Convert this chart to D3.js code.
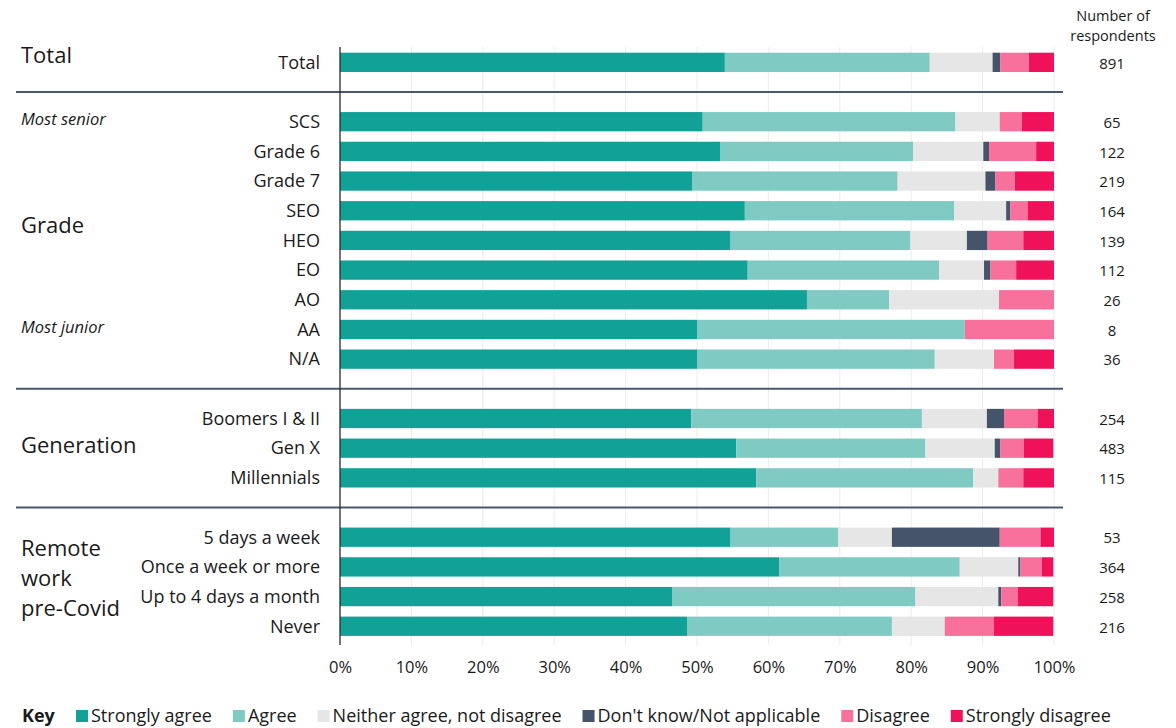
<!DOCTYPE html>
<html>
<head>
<meta charset="utf-8">
<script src="https://cdn.jsdelivr.net/npm/d3@7"></script>
<style>
  html, body { margin: 0; padding: 0; background: #fff; }
  svg { display: block; font-family: "Open Sans", "Noto Sans", sans-serif; }
</style>
</head>
<body>
<svg id="chart" width="1176" height="728"></svg>
<script>
// Survey responses by group (percent of respondents in each row)
const categories = ["Total", "SCS", "Grade 6", "Grade 7", "SEO", "HEO", "EO", "AO", "AA", "N/A",
  "Boomers I & II", "Gen X", "Millennials",
  "5 days a week", "Once a week or more", "Up to 4 days a month", "Never"];

const stronglyAgree    = [53.9, 50.8, 53.3, 49.3, 56.7, 54.7, 57.1, 65.4, 50.0, 50.0, 49.2, 55.5, 58.3, 54.7, 61.5, 46.5, 48.6];
const agree            = [28.7, 35.4, 27.0, 28.8, 29.3, 25.2, 26.8, 11.5, 37.5, 33.3, 32.3, 26.5, 30.4, 15.1, 25.3, 34.1, 28.7];
const neither          = [8.8, 6.2, 9.8, 12.3, 7.3, 7.9, 6.3, 15.4, 0, 8.3, 9.1, 9.7, 3.5, 7.5, 8.2, 11.6, 7.4];
const dontKnow         = [1.1, 0, 0.8, 1.4, 0.6, 2.9, 0.9, 0, 0, 0, 2.4, 0.8, 0, 15.1, 0.3, 0.4, 0];
const disagree         = [4.0, 3.1, 6.6, 2.7, 2.4, 5.0, 3.6, 7.7, 12.5, 2.8, 4.7, 3.3, 3.5, 5.7, 3.0, 2.3, 6.9];
const stronglyDisagree = [3.5, 4.6, 2.5, 5.5, 3.7, 4.3, 5.4, 0, 0, 5.6, 2.4, 4.1, 4.3, 1.9, 1.6, 5.0, 8.3];

const respondents = [891, 65, 122, 219, 164, 139, 112, 26, 8, 36, 254, 483, 115, 53, 364, 258, 216];

const seriesNames = ["Strongly agree", "Agree", "Neither agree, not disagree",
  "Don't know/Not applicable", "Disagree", "Strongly disagree"];
const seriesColors = ["#12a197", "#7fcbc3", "#e6e6e6", "#45546a", "#f7719c", "#f0115b"];

const groupTitles = [["Total"], ["Grade"], ["Generation"], ["Remote", "work", "pre-Covid"]];
const groupSizes = [1, 9, 3, 4];
const rowNotes = [{ row: 1, text: "Most senior" }, { row: 8, text: "Most junior" }];

const tickValues = [0, 10, 20, 30, 40, 50, 60, 70, 80, 90, 100];
const tickLabels = ["0%", "10%", "20%", "30%", "40%", "50%", "60%", "70%", "80%", "90%", "100%"];

const headerLines = ["Number of", "respondents"];

// ---- layout ----
const svg = d3.select("#chart");
const textColor = "#1a1a1a";
const ruleColor = "#4a586d";

// each group gets its rows plus one empty slot separating it from the next
const rowGroup = [];
groupSizes.forEach((n, g) => { for (let i = 0; i < n; i++) rowGroup.push(g); });
const rowSlot = rowGroup.map((g, i) => i + g);
const separatorSlots = groupSizes.slice(0, -1).map((n, g) => {
  const last = groupSizes.slice(0, g + 1).reduce((a, b) => a + b, 0) - 1;
  return rowSlot[last] + 1;
});

const nSlots = 20;
const y = d3.scaleBand()
  .domain(d3.range(nSlots))
  .range([47.5, 47.5 + nSlots * 29.68])
  .paddingInner(0.35)
  .paddingOuter(0.175);
const slotCenter = s => y(s) + y.bandwidth() / 2;

const x = d3.scaleLinear().domain([0, 100]).range([340, 1054]);

const plotTop = 47, plotBottom = 645;

// gridlines
svg.append("g")
  .selectAll("line")
  .data(tickValues.slice(1))
  .join("line")
  .attr("x1", d => x(d)).attr("x2", d => x(d))
  .attr("y1", plotTop).attr("y2", plotBottom)
  .attr("stroke", "#ececec").attr("stroke-width", 1);

// stacked bars
const seriesArrays = [stronglyAgree, agree, neither, dontKnow, disagree, stronglyDisagree];
const table = categories.map((c, i) => {
  const o = { category: c, slot: rowSlot[i] };
  seriesNames.forEach((s, k) => { o[s] = seriesArrays[k][i]; });
  return o;
});
const stacked = d3.stack().keys(seriesNames)(table);

svg.append("g")
  .selectAll("g")
  .data(stacked)
  .join("g")
  .attr("fill", (d, k) => seriesColors[k])
  .selectAll("rect")
  .data(d => d)
  .join("rect")
  .attr("x", d => x(d[0]))
  .attr("width", d => Math.max(0, x(Math.min(100, d[1])) - x(d[0])))
  .attr("y", d => y(d.data.slot))
  .attr("height", y.bandwidth());

// group separators
svg.append("g")
  .selectAll("line")
  .data(separatorSlots)
  .join("line")
  .attr("x1", 16).attr("x2", 1063)
  .attr("y1", d => slotCenter(d)).attr("y2", d => slotCenter(d))
  .attr("stroke", ruleColor).attr("stroke-width", 2);

// category axis line
svg.append("line")
  .attr("x1", x(0)).attr("x2", x(0))
  .attr("y1", plotTop).attr("y2", plotBottom)
  .attr("stroke", "#2b2b2b").attr("stroke-width", 1.3);

// category labels
svg.append("g")
  .selectAll("text")
  .data(table)
  .join("text")
  .attr("x", 320)
  .attr("y", d => slotCenter(d.slot))
  .attr("dy", "0.35em")
  .attr("text-anchor", "end")
  .attr("font-size", 18)
  .attr("fill", textColor)
  .text(d => d.category);

// group titles
const titleOffsets = [-0.25, 5.5, 12.9, 17.4];
groupTitles.forEach((lines, g) => {
  const cy = slotCenter(0) + titleOffsets[g] * y.step();
  const lh = 30;
  const t = svg.append("text")
    .attr("x", 21)
    .attr("font-size", 22)
    .attr("fill", textColor);
  lines.forEach((ln, j) => {
    t.append("tspan")
      .attr("x", 21)
      .attr("y", cy + (j - (lines.length - 1) / 2) * lh)
      .attr("dy", "0.35em")
      .text(ln);
  });
});

// row notes
svg.append("g")
  .selectAll("text")
  .data(rowNotes)
  .join("text")
  .attr("x", 21)
  .attr("y", d => slotCenter(rowSlot[d.row]) - 2)
  .attr("dy", "0.35em")
  .attr("font-size", 16.5)
  .attr("font-style", "italic")
  .attr("fill", textColor)
  .text(d => d.text);

// respondent counts
svg.append("g")
  .selectAll("text")
  .data(table)
  .join("text")
  .attr("x", 1112)
  .attr("y", d => slotCenter(d.slot) + 1)
  .attr("dy", "0.35em")
  .attr("text-anchor", "middle")
  .attr("font-size", 15)
  .attr("fill", textColor)
  .text((d, i) => respondents[i]);

svg.append("g")
  .selectAll("text")
  .data(headerLines)
  .join("text")
  .attr("x", 1113)
  .attr("y", (d, i) => 16 + i * 20)
  .attr("dy", "0.35em")
  .attr("text-anchor", "middle")
  .attr("font-size", 14.5)
  .attr("fill", textColor)
  .text(d => d);

// percentage axis
const xAxis = d3.axisBottom(x)
  .tickValues(tickValues)
  .tickFormat((d, i) => tickLabels[i])
  .tickSize(0)
  .tickPadding(0);
const gx = svg.append("g")
  .attr("transform", `translate(0, 667)`)
  .call(xAxis);
gx.select(".domain").remove();
gx.selectAll("text")
  .attr("dy", "0.35em")
  .attr("y", 0)
  .attr("font-family", "\"Open Sans\", \"Noto Sans\", sans-serif")
  .attr("font-size", 16.5)
  .attr("fill", textColor);

// legend
const legendY = 716;
const legend = svg.append("g");
legend.append("text")
  .attr("x", 22).attr("y", legendY).attr("dy", "0.35em")
  .attr("font-size", 18).attr("font-weight", 700)
  .attr("fill", textColor)
  .text("Key");

let lx = 76;
seriesNames.forEach((name, k) => {
  legend.append("rect")
    .attr("x", lx).attr("y", legendY - 6)
    .attr("width", 12).attr("height", 12)
    .attr("fill", seriesColors[k]);
  const t = legend.append("text")
    .attr("x", lx + 15).attr("y", legendY).attr("dy", "0.35em")
    .attr("font-size", 18)
    .attr("fill", textColor)
    .text(name);
  lx += 15 + t.node().getComputedTextLength() + 21;
});
</script>
</body>
</html>
